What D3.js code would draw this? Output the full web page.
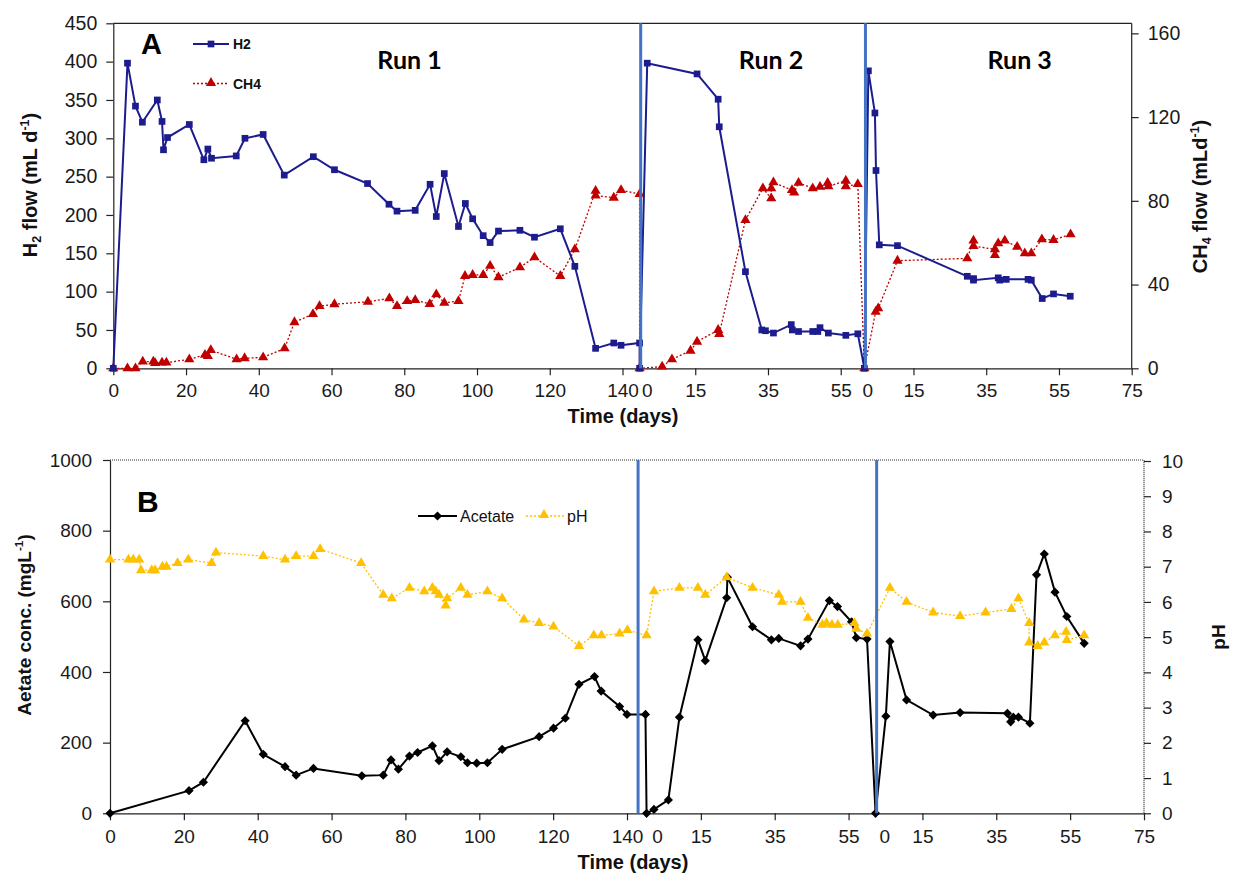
<!DOCTYPE html>
<html><head><meta charset="utf-8">
<script src="https://cdn.jsdelivr.net/npm/d3@7"></script>
<style>body{margin:0;background:#fff}</style>
</head><body>
<svg id="chart" width="1233" height="877"></svg>
<script>
// ---------- DATA ----------
const xTickValues = [0,20,40,60,80,100,120,140,160,180,200,220,240,260,280];
const xTickLabels = ["0","20","40","60","80","100","120","140","15","35","55","15","35","55","75"];
const runZeroLabelsTop = [146.7, 207.3];
const runZeroLabelsBottom = [148.1, 209.7];
const runBoundariesTop = [145, 206.8];
const runBoundariesBottom = [143, 207.6];
const runOffsets = [0, 145, 205];
const runNames = ["Run 1", "Run 2", "Run 3"];
const h2Ticks = [0,50,100,150,200,250,300,350,400,450];
const ch4Ticks = [0,40,80,120,160];
const acetateTicks = [0,200,400,600,800,1000];
const phTicks = [0,1,2,3,4,5,6,7,8,9,10];

// H2 flow (mL/d) — [run day, value]
const h2Run1 = [[0,0],[3.9,398],[6.1,342],[8,321],[12.1,350],[13.4,322],[13.8,285],[14.9,301],[20.9,318],[24.9,272],[26,286],[27,274],[33.8,277],[36.2,300],[41.2,305],[47,252],[55,276],[60.8,259],[69.9,241],[75.8,214],[78,205],[83,206],[87.1,240],[88.8,198],[91,254],[94.9,185],[96.8,215],[98.8,195],[101.7,173],[103.6,164],[105.9,179],[111.8,180],[115.8,171],[122.9,182],[126.9,133],[132.6,26],[137.6,33],[139.6,30],[144.7,33]];
const h2Run2 = [[-0.3,0],[1.8,398],[15.5,384],[21.3,351],[21.6,315],[28.8,126],[33.3,50],[34.3,49],[36.5,46],[41.4,57],[41.7,50],[43.4,48],[47.3,48],[48.7,48],[49.3,53],[51.6,46],[56.4,43],[59.7,45]];
const h2Run3 = [[1.5,0],[2.6,388],[4.4,333],[4.7,258],[5.6,161],[10.6,160],[29.8,120],[31.5,117],[31.5,115],[38.3,118],[38.7,115],[40.5,116],[46.5,116],[47.4,115],[50.4,91],[53.5,97],[58.1,94]];

// CH4 flow (mL/d)
const ch4Run1 = [[0,0],[3.9,0],[6.1,0],[8.1,3.2],[11,3.2],[11.5,2.5],[13.4,2.7],[14.6,2.7],[20.9,4.3],[25.2,6.4],[26,5.8],[26.8,8.7],[33.9,4.3],[36.1,4.8],[41.2,5.2],[47.1,9.5],[49.8,22],[54.9,25.9],[56.7,29.7],[60.8,30.6],[70,31.8],[75.9,33.4],[78,29.7],[80.8,32.1],[83,32.6],[87,30.7],[88.8,35.3],[91,31.3],[94.9,32.1],[96.7,44.1],[98.8,44.6],[101.7,44.6],[103.6,48.9],[105.9,43.5],[111.8,48.2],[115.8,53],[122.9,44.1],[126.9,56.8],[132.6,84.8],[132.6,82.5],[137.6,81.5],[139.6,85.1],[144.7,83.2]];
const ch4Run2 = [[-0.3,0],[5.9,0.8],[8.6,4.3],[13.7,8.4],[15.5,12.7],[21.3,18.3],[21.6,16.4],[28.8,70.8],[33.6,86],[35.9,81.2],[35.9,86],[36.5,88.8],[41.6,85.1],[42.2,83.9],[43.4,88.6],[47.3,86],[49.3,86.7],[51.4,88.6],[51.6,86.9],[56.4,89.6],[56.4,86.9],[59.7,88]];
const ch4Run3 = [[1.5,0],[4.6,27],[5.3,28.6],[10.6,51.4],[29.8,52.5],[31.5,61],[31.5,58.4],[37.4,56.8],[37.4,54.1],[38.3,59.7],[40.1,61],[43.5,58],[45.6,54.9],[47.4,54.9],[50.3,61.6],[53.5,61.3],[58.2,64]];

// Acetate (mg/L)
const acRun1 = [[0,0],[21.4,64],[25.3,88],[36.6,262],[41.5,167],[47.4,132],[50.4,108],[55.1,127],[68.2,106],[74,108],[76.1,151],[78.1,125],[81.1,162],[83.3,172],[87.3,191],[89.1,149],[91.3,174],[95,160],[96.8,143],[99.3,142],[102.2,143],[106.2,181],[116.2,217],[120.1,241],[123.3,269],[127,365],[131.2,387],[133,346],[138,302],[140,280],[145,280]];
const acRun2 = [[0.3,0],[2.3,11],[6.2,38],[9.2,272],[14.2,491],[16.2,432],[22,610],[22.2,668],[29,528],[34.1,491],[36.1,495],[42,474],[44,493],[49.8,602],[52,585],[55.8,542],[57.1,497],[60,493]];
const acRun3 = [[2.3,0],[5.1,275],[6.2,486],[10.7,321],[17.9,278],[25.2,285],[38,283],[38.9,259],[39.6,272],[41,272],[44.1,255],[45.9,675],[48,734],[50.9,626],[54.1,557],[58.8,481]];

// pH
const phRun1 = [[0,7.2],[5,7.2],[6.3,7.2],[7.9,7.2],[8.4,6.9],[11.3,6.9],[12.2,6.9],[14.2,7.0],[15.3,7.0],[18.3,7.1],[21.2,7.2],[27.5,7.1],[28.7,7.4],[41.5,7.3],[47.4,7.2],[50.4,7.3],[55.1,7.3],[56.9,7.5],[68,7.1],[74,6.2],[76.3,6.1],[81.1,6.4],[85.1,6.3],[87.3,6.4],[88.2,6.3],[89.1,6.2],[90.9,5.9],[91.3,6.1],[95,6.4],[96.8,6.2],[102.2,6.3],[106.2,6.1],[112.1,5.5],[116.2,5.4],[120.1,5.3],[127,4.75],[131,5.05],[133.1,5.05],[138,5.1],[140.1,5.2],[145.3,5.05]];
const phRun2 = [[2.3,6.3],[9.2,6.4],[14.2,6.4],[16.2,6.2],[22,6.7],[29,6.4],[36.1,6.2],[37,6.0],[42,6.0],[44,5.55],[47.9,5.35],[49,5.4],[50.5,5.35],[52.1,5.35],[56.6,5.4],[57.1,5.24],[60,5.1]];
const phRun3 = [[6.2,6.4],[10.7,6.0],[17.9,5.7],[25.2,5.6],[32.1,5.7],[39.1,5.8],[41,6.1],[43.9,5.4],[43.9,4.85],[46.2,4.75],[48,4.85],[50.9,5.05],[53.9,5.15],[54.1,4.92],[58.8,5.05]];

// ---------- HELPERS ----------
const joinRuns = runs => runs.flatMap((r, i) => r.map(([d, v]) => ({x: d + runOffsets[i], y: v})));
const svg = d3.select("#chart");
const FONT = "'Liberation Sans', Arial, sans-serif";
const COL = {h2: "#1c1c8e", ch4: "#c00000", ac: "#000000", ph: "#ffc000", run: "#4472c4", axis: "#222"};

function richText(g, parts, size, bold) {
  const t = g.append("text").attr("font-family", FONT).attr("font-size", size)
    .attr("font-weight", bold ? "bold" : "normal").attr("fill", "#111");
  parts.forEach(p => {
    const ts = t.append("tspan").text(p.t);
    if (p.sub) ts.attr("font-size", size * 0.62).attr("baseline-shift", -size * 0.22);
    if (p.sup) ts.attr("font-size", size * 0.62).attr("baseline-shift", size * 0.42);
  });
  return t;
}

function styleAxis(g, size) {
  g.selectAll("path").attr("stroke", COL.axis).attr("stroke-width", 1.2);
  g.selectAll("line").attr("stroke", COL.axis).attr("stroke-width", 1.2);
  g.selectAll("text").attr("font-family", FONT).attr("font-size", size).attr("fill", "#1a1a1a");
}

function drawMarkers(g, data, x, y, type, size, color, rotate) {
  g.selectAll(null).data(data).enter().append("path")
    .attr("d", d3.symbol().type(type).size(size))
    .attr("transform", d => `translate(${x(d.x)},${y(d.y)})` + (rotate ? " rotate(45)" : ""))
    .attr("fill", color);
}

// ---------- PANEL A ----------
const A = {l: 113.3, r: 1131.7, t: 23.3, b: 368.3};
const xA = d3.scaleLinear([0, 280], [A.l, A.r]);
const yH2 = d3.scaleLinear([0, 450], [A.b, A.t]);
const yCH4 = d3.scaleLinear([0, 164.8], [A.b, A.t]);

const gA = svg.append("g");
gA.append("line").attr("x1", A.l).attr("x2", A.r).attr("y1", A.t).attr("y2", A.t).attr("stroke", COL.axis).attr("stroke-width", 1.2);

const axAL = gA.append("g").attr("transform", `translate(${A.l},0)`)
  .call(d3.axisLeft(yH2).tickValues(h2Ticks).tickFormat(d3.format("d")).tickSize(7).tickSizeOuter(0).tickPadding(9));
styleAxis(axAL, 19.5);
const axAR = gA.append("g").attr("transform", `translate(${A.r},0)`)
  .call(d3.axisRight(yCH4).tickValues(ch4Ticks).tickFormat(d3.format("d")).tickSize(7).tickSizeOuter(0).tickPadding(9));
styleAxis(axAR, 19.5);
axAR.select("path").attr("d", `M0,${A.b}V${A.t}`);
const axAB = gA.append("g").attr("transform", `translate(0,${A.b})`)
  .call(d3.axisBottom(xA).tickValues(xTickValues).tickFormat((d, i) => xTickLabels[i]).tickSize(7).tickSizeOuter(0).tickPadding(8));
styleAxis(axAB, 19);
const axAB0 = gA.append("g").attr("transform", `translate(0,${A.b})`)
  .call(d3.axisBottom(xA).tickValues(runZeroLabelsTop).tickFormat(() => "0").tickSize(0).tickPadding(15));
styleAxis(axAB0, 19);
axAB0.select("path").remove();

const ch4Data = joinRuns([ch4Run1, ch4Run2, ch4Run3]);
const h2Data = joinRuns([h2Run1, h2Run2, h2Run3]);
gA.append("path").datum(ch4Data).attr("fill", "none").attr("stroke", COL.ch4).attr("stroke-width", 1.3)
  .attr("stroke-dasharray", "2,2").attr("d", d3.line().x(d => xA(d.x)).y(d => yCH4(d.y)));
drawMarkers(gA, ch4Data, xA, yCH4, d3.symbolTriangle, 45, COL.ch4);
gA.append("path").datum(h2Data).attr("fill", "none").attr("stroke", COL.h2).attr("stroke-width", 2)
  .attr("d", d3.line().x(d => xA(d.x)).y(d => yH2(d.y)));
drawMarkers(gA, h2Data, xA, yH2, d3.symbolSquare, 45, COL.h2);

runBoundariesTop.forEach(v => gA.append("line").attr("x1", xA(v)).attr("x2", xA(v)).attr("y1", A.t).attr("y2", A.b)
  .attr("stroke", COL.run).attr("stroke-width", 3));

gA.append("text").attr("x", 141).attr("y", 54.3).text("A").attr("font-family", FONT).attr("font-weight", "bold").attr("font-size", 29).attr("fill", "#000");
[[409.5], [771], [1019.7]].forEach((p, i) => gA.append("text").attr("x", p[0]).attr("y", 69.3).attr("text-anchor", "middle")
  .text(runNames[i]).attr("font-family", "Lato, 'Open Sans', sans-serif").attr("font-weight", "bold").attr("font-size", 25).attr("fill", "#000"));

// legend A
gA.append("line").attr("x1", 193).attr("x2", 229).attr("y1", 44).attr("y2", 44).attr("stroke", COL.h2).attr("stroke-width", 2);
gA.append("path").attr("d", d3.symbol().type(d3.symbolSquare).size(45)).attr("transform", "translate(211,44)").attr("fill", COL.h2);
gA.append("text").attr("x", 233).attr("y", 49).text("H2").attr("font-family", FONT).attr("font-weight", "bold").attr("font-size", 14).attr("fill", "#111");
gA.append("line").attr("x1", 193).attr("x2", 229).attr("y1", 83.5).attr("y2", 83.5).attr("stroke", COL.ch4).attr("stroke-width", 1.3).attr("stroke-dasharray", "2,2");
gA.append("path").attr("d", d3.symbol().type(d3.symbolTriangle).size(45)).attr("transform", "translate(211,83)").attr("fill", COL.ch4);
gA.append("text").attr("x", 233).attr("y", 88.5).text("CH4").attr("font-family", FONT).attr("font-weight", "bold").attr("font-size", 14).attr("fill", "#111");

richText(gA.append("g").attr("transform", "translate(30,185) rotate(-90)"),
  [{t: "H"}, {t: "2", sub: true}, {t: " flow (mL d"}, {t: "-1", sup: true}, {t: ")"}], 20, true)
  .attr("text-anchor", "middle").attr("dy", "0.35em");
richText(gA.append("g").attr("transform", "translate(1200,196.5) rotate(-90)"),
  [{t: "CH"}, {t: "4", sub: true}, {t: " flow (mLd"}, {t: "-1", sup: true}, {t: ")"}], 20, true)
  .attr("text-anchor", "middle").attr("dy", "0.35em");
gA.append("text").attr("x", 623).attr("y", 423).attr("text-anchor", "middle").text("Time (days)")
  .attr("font-family", FONT).attr("font-weight", "bold").attr("font-size", 20).attr("fill", "#111");

// ---------- PANEL B ----------
const B = {l: 110, r: 1144, t: 460, b: 813.3};
const xB = d3.scaleLinear([0, 280], [B.l, B.r]);
const yAc = d3.scaleLinear([0, 1000], [B.b, B.t]);
const yPH = d3.scaleLinear([0, 10], [B.b, B.t + 1]);

const gB = svg.append("g");
gB.append("line").attr("x1", B.l).attr("x2", B.r).attr("y1", B.t).attr("y2", B.t)
  .attr("stroke", "#333").attr("stroke-width", 1.2).attr("stroke-dasharray", "1,1");

const axBL = gB.append("g").attr("transform", `translate(${B.l},0)`)
  .call(d3.axisLeft(yAc).tickValues(acetateTicks).tickFormat(d3.format("d")).tickSize(7).tickSizeOuter(0).tickPadding(11));
styleAxis(axBL, 19);
const axBR = gB.append("g").attr("transform", `translate(${B.r},0)`)
  .call(d3.axisRight(yPH).tickValues(phTicks).tickFormat(d3.format("d")).tickSize(7).tickSizeOuter(0).tickPadding(11));
styleAxis(axBR, 19);
axBR.select("path").attr("d", `M0,${B.b}V${B.t}`).attr("stroke-dasharray", "1,1");
const axBB = gB.append("g").attr("transform", `translate(0,${B.b})`)
  .call(d3.axisBottom(xB).tickValues(xTickValues).tickFormat((d, i) => xTickLabels[i]).tickSize(7).tickSizeOuter(0).tickPadding(9));
styleAxis(axBB, 19);
const axBB0 = gB.append("g").attr("transform", `translate(0,${B.b})`)
  .call(d3.axisBottom(xB).tickValues(runZeroLabelsBottom).tickFormat(() => "0").tickSize(0).tickPadding(16));
styleAxis(axBB0, 19);
axBB0.select("path").remove();

const phData = joinRuns([phRun1, phRun2, phRun3]);
const acData = joinRuns([acRun1, acRun2, acRun3]);
gB.append("path").datum(acData).attr("fill", "none").attr("stroke", COL.ac).attr("stroke-width", 2)
  .attr("d", d3.line().x(d => xB(d.x)).y(d => yAc(d.y)));
drawMarkers(gB, acData, xB, yAc, d3.symbolSquare, 42, COL.ac, true);
gB.append("path").datum(phData).attr("fill", "none").attr("stroke", COL.ph).attr("stroke-width", 1.3)
  .attr("stroke-dasharray", "2,2").attr("d", d3.line().x(d => xB(d.x)).y(d => yPH(d.y)));
drawMarkers(gB, phData, xB, yPH, d3.symbolTriangle, 45, COL.ph);

runBoundariesBottom.forEach(v => gB.append("line").attr("x1", xB(v)).attr("x2", xB(v)).attr("y1", B.t).attr("y2", B.b)
  .attr("stroke", COL.run).attr("stroke-width", 3));

gB.append("text").attr("x", 137).attr("y", 512).text("B").attr("font-family", FONT).attr("font-weight", "bold").attr("font-size", 30).attr("fill", "#000");

// legend B
gB.append("line").attr("x1", 418).attr("x2", 457).attr("y1", 516).attr("y2", 516).attr("stroke", "#000").attr("stroke-width", 2);
gB.append("path").attr("d", d3.symbol().type(d3.symbolSquare).size(42)).attr("transform", "translate(437.5,516) rotate(45)").attr("fill", "#000");
gB.append("text").attr("x", 460).attr("y", 522).text("Acetate").attr("font-family", FONT).attr("font-size", 16).attr("fill", "#111");
gB.append("line").attr("x1", 526).attr("x2", 565).attr("y1", 516).attr("y2", 516).attr("stroke", COL.ph).attr("stroke-width", 1.3).attr("stroke-dasharray", "2,2");
gB.append("path").attr("d", d3.symbol().type(d3.symbolTriangle).size(45)).attr("transform", "translate(544,515)").attr("fill", COL.ph);
gB.append("text").attr("x", 567).attr("y", 522).text("pH").attr("font-family", FONT).attr("font-size", 16).attr("fill", "#111");

richText(gB.append("g").attr("transform", "translate(24,625) rotate(-90)"),
  [{t: "Aetate conc. (mgL"}, {t: "-1", sup: true}, {t: ")"}], 19, true)
  .attr("text-anchor", "middle").attr("dy", "0.35em");
gB.append("text").attr("transform", "translate(1218,637) rotate(-90)").attr("text-anchor", "middle").attr("dy", "0.35em")
  .text("pH").attr("font-family", FONT).attr("font-weight", "bold").attr("font-size", 19).attr("fill", "#111");
gB.append("text").attr("x", 633).attr("y", 869).attr("text-anchor", "middle").text("Time (days)")
  .attr("font-family", FONT).attr("font-weight", "bold").attr("font-size", 20).attr("fill", "#111");
</script>
</body></html>
